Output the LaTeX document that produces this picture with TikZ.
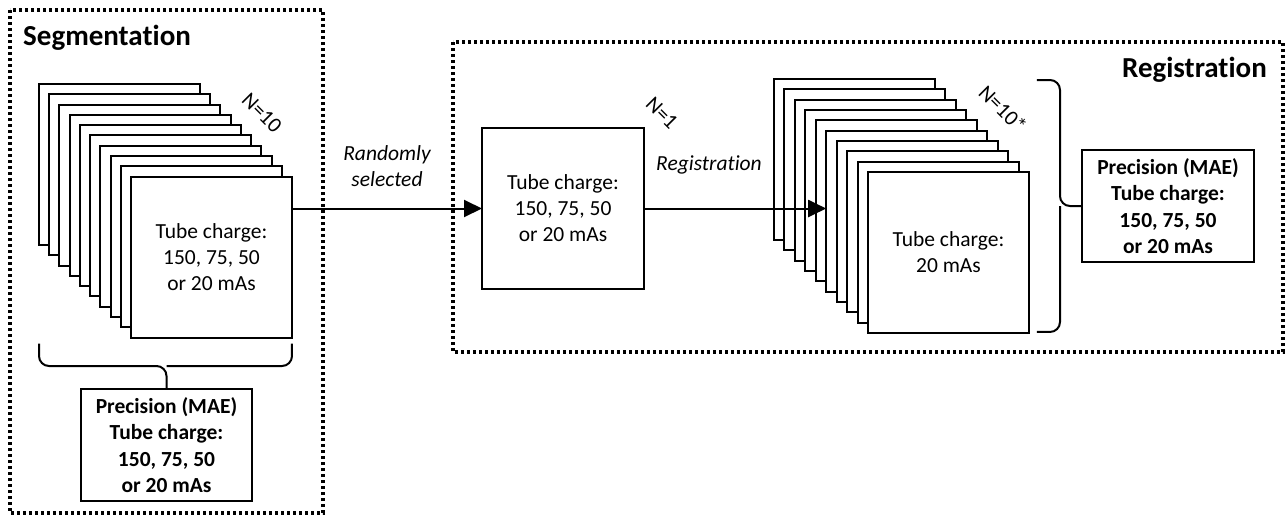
\documentclass[tikz,border=0pt]{standalone}
\usepackage{fontspec}
\setmainfont{Carlito}[RawFeature={-liga;-clig;-dlig}]
\usetikzlibrary{arrows.meta,calc}
\begin{document}
\begin{tikzpicture}[x=1pt,y=-1pt,
  page/.style={draw, fill=white, line width=2pt, minimum width=161pt, minimum height=161pt,
    inner sep=0pt, outer sep=0pt, align=center, font=\fontsize{21.5}{26}\selectfont},
  infobox/.style={draw, line width=2pt, inner sep=0pt, outer sep=0pt, align=center,
    minimum height=112pt, font=\fontsize{21.5}{26.5}\selectfont\bfseries},
  frame/.style={line width=3.2pt, dash pattern=on 3.2pt off 2.8pt},
  conn/.style={line width=2pt, -{Triangle[length=18pt,width=17pt]}},
  bracestyle/.style={line width=2pt, rounded corners=10pt},
  titletext/.style={font=\fontsize{29}{34}\selectfont\bfseries, inner sep=0pt},
  ital/.style={font=\fontsize{21.5}{26}\selectfont\itshape, align=center, inner sep=0pt},
  nlabel/.style={font=\fontsize{21.5}{26}\selectfont, rotate=-45, inner sep=0pt}]
\useasboundingbox (0,0) rectangle (1285,520);

% frames
\draw[frame] (10,10) rectangle (323,513);
\draw[frame] (453,42) rectangle (1283,352);

% titles
\node[titletext, anchor=base west] (segt) at (23,45) {Segmentation};
\node[titletext, anchor=base east] (regt) at (1267,77) {Registration};

% left stack
\foreach \i in {1,...,9}
  \node[page] (L\i) at ({119.5+(\i-1)*10.22},{164.5+(\i-1)*10.28}) {};
\node[page] (L10) at ({119.5+9*10.22},{164.5+9*10.28}) {Tube charge:\\150, 75, 50\\or 20 mAs};
\node[nlabel] (nL) at (262,113) {N=10};

% left precision box
\node[infobox, minimum width=171pt] (pL) at (166.5,445) {Precision (MAE)\\Tube charge:\\150, 75, 50\\or 20 mAs};

% left brace
\coordinate (bl) at ($(L1.west |- L10.south)+(0,6)$);
\coordinate (br) at ($(L10.south east)+(0,6)$);
\coordinate (bm) at ($(pL.north)+(0,-23)$);
\draw[bracestyle] (bl) -- (bl |- bm) -- (bm) -- (pL.north);
\draw[bracestyle] (br) -- (br |- bm) -- (bm);

% single image
\node[page, minimum width=162pt] (S) at (563,208.5) {Tube charge:\\150, 75, 50\\or 20 mAs};
\node[nlabel] (n1) at (662,113) {N=1};

% right stack
\foreach \i in {1,...,9}
  \node[page] (R\i) at ({854.5+(\i-1)*10.44},{159.5+(\i-1)*10.33}) {};
\node[page] (R10) at ({854.5+9*10.44},{159.5+9*10.33}) {Tube charge:\\20 mAs};
\node[nlabel] (nR) at (1003,109) {N=10*};

% right precision box
\node[infobox, minimum width=172pt] (pR) at (1168,206) {Precision (MAE)\\Tube charge:\\150, 75, 50\\or 20 mAs};

% right brace
\coordinate (rt) at ($(R10.east |- R1.north)+(8,1)$);
\coordinate (rb) at ($(R10.south east)+(8,-1)$);
\coordinate (rm) at ($(pR.west)+(-22,0)$);
\draw[bracestyle] (rt) -- (rt -| rm) -- (rm) -- (pR.west);
\draw[bracestyle] (rb) -- (rb -| rm) -- (rm);

% connectors
\draw[conn] (L10.east |- S.west) -- (S.west);
\node[ital] (rs) at (387,166) {Randomly\\selected};
\draw[conn] (S.east) -- (R6.west |- S.east);
\node[ital] (regl) at (709,165) {Registration};
\end{tikzpicture}
\end{document}
